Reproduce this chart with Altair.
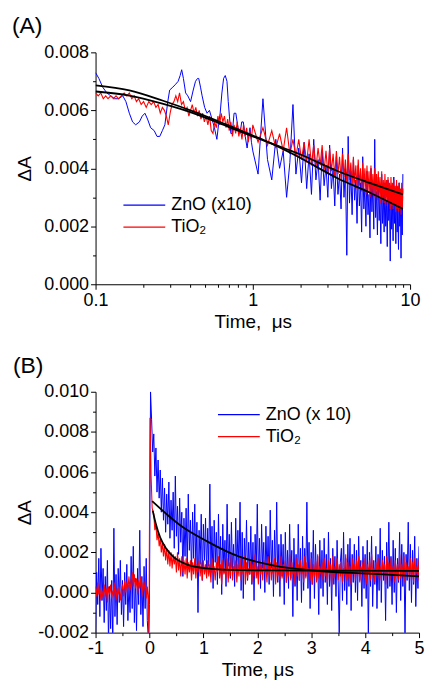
import altair as alt
import pandas as pd

FONT = "Liberation Sans"
BLUE = "#0000ff"
RED = "#ff0000"

# ---------------- Panel A (log time axis) ----------------
zno_a_t1 = [0.100, 0.105, 0.111, 0.118, 0.125, 0.132, 0.140, 0.149, 0.156, 0.164,
            0.172, 0.180, 0.190, 0.198, 0.206, 0.214, 0.224, 0.236, 0.246, 0.256,
            0.266, 0.276, 0.288, 0.296, 0.310, 0.323, 0.335, 0.345, 0.353, 0.362,
            0.374, 0.386, 0.402, 0.418, 0.432, 0.445, 0.453, 0.465, 0.476, 0.494,
            0.512, 0.530, 0.550, 0.570, 0.591, 0.605, 0.620, 0.636, 0.652, 0.668,
            0.685, 0.698, 0.710, 0.725, 0.740, 0.760, 0.780, 0.805, 0.830, 0.850,
            0.870, 0.895, 0.920, 0.940, 0.960, 0.980]
zno_a_v1 = [0.0073, 0.0071, 0.0068, 0.0066, 0.0065, 0.0064, 0.0064, 0.0065, 0.0063, 0.0059,
            0.0056, 0.0055, 0.0056, 0.0058, 0.0059, 0.0057, 0.0054, 0.0053, 0.0051, 0.0051,
            0.0053, 0.0055, 0.0063, 0.0067, 0.0068, 0.0069, 0.0070, 0.0072, 0.0074, 0.0071,
            0.0066, 0.0065, 0.0063, 0.0067, 0.0070, 0.0071, 0.0071, 0.0068, 0.0065, 0.0061,
            0.0059, 0.0060, 0.0057, 0.0054, 0.0050, 0.0055, 0.0059, 0.0066, 0.0071, 0.0072,
            0.0070, 0.0063, 0.0058, 0.0052, 0.0052, 0.0059, 0.0059, 0.0054, 0.0052, 0.0056,
            0.0056, 0.0051, 0.0047, 0.0051, 0.0054, 0.0049]
# sampled every 0.08 us from 1.00 us
zno_a_v2 = [0.0046, 0.0038, 0.0064, 0.0043, 0.0036, 0.0050, 0.0040, 0.0046, 0.0030, 0.0042,
            0.0062, 0.0038, 0.0047, 0.0035, 0.0049, 0.0033, 0.0045, 0.0031, 0.0050, 0.0036,
            0.0043, 0.0029, 0.0046, 0.0034, 0.0041, 0.0030, 0.0048, 0.0033, 0.0040, 0.0027,
            0.0044, 0.0031, 0.0038, 0.0026, 0.0047, 0.0030, 0.0040, 0.0010, 0.0051, 0.0028,
            0.0039, 0.0024, 0.0043, 0.0029, 0.0036, 0.0021, 0.0041, 0.0027, 0.0035, 0.0018,
            0.0044, 0.0026, 0.0033, 0.0020, 0.0039, 0.0024, 0.0031, 0.0016, 0.0040, 0.0025,
            0.0034, 0.0019, 0.0050, 0.0023, 0.0032, 0.0017, 0.0037, 0.0022, 0.0030, 0.0014,
            0.0038, 0.0021, 0.0031, 0.0018, 0.0035, 0.0020, 0.0029, 0.0013, 0.0036, 0.0022,
            0.0030, 0.0008, 0.0034, 0.0019, 0.0028, 0.0015, 0.0037, 0.0021, 0.0029, 0.0014,
            0.0033, 0.0018, 0.0027, 0.0012, 0.0035, 0.0020, 0.0030, 0.0009, 0.0032, 0.0017,
            0.0038]

tio_a_t1 = [0.100, 0.104, 0.108, 0.112, 0.116, 0.120, 0.125, 0.130, 0.135, 0.140,
            0.146, 0.152, 0.158, 0.164, 0.170, 0.176, 0.182, 0.188, 0.195, 0.202,
            0.210, 0.218, 0.226, 0.234, 0.242, 0.250, 0.258, 0.266, 0.274, 0.282,
            0.290, 0.298, 0.306, 0.315, 0.324, 0.333, 0.342, 0.352, 0.362, 0.372,
            0.382, 0.392, 0.402, 0.412, 0.423, 0.434, 0.445, 0.456, 0.468, 0.480,
            0.492, 0.505, 0.518, 0.531, 0.544, 0.558, 0.572, 0.586, 0.600, 0.615,
            0.630, 0.645, 0.660, 0.676, 0.692, 0.708, 0.725, 0.742, 0.760, 0.778,
            0.796, 0.815, 0.834, 0.853, 0.873, 0.893, 0.914, 0.935, 0.957, 0.979]
tio_a_v1 = [0.0066, 0.0065, 0.0066, 0.0064, 0.0065, 0.0064, 0.0065, 0.0064, 0.0065, 0.0064,
            0.0065, 0.0066, 0.0065, 0.0066, 0.0064, 0.0065, 0.0063, 0.0064, 0.0062, 0.0063,
            0.0061, 0.0063, 0.0062, 0.0063, 0.0061, 0.0062, 0.0059, 0.0061, 0.0060, 0.0058,
            0.0055, 0.0059, 0.0062, 0.0063, 0.0065, 0.0063, 0.0066, 0.0062, 0.0063, 0.0060,
            0.0061, 0.0058, 0.0060, 0.0062, 0.0059, 0.0061, 0.0058, 0.0060, 0.0057, 0.0059,
            0.0056, 0.0058, 0.0055, 0.0058, 0.0053, 0.0052, 0.0056, 0.0054, 0.0058, 0.0055,
            0.0059, 0.0056, 0.0058, 0.0054, 0.0057, 0.0053, 0.0056, 0.0051, 0.0055, 0.0052,
            0.0056, 0.0051, 0.0054, 0.0050, 0.0055, 0.0051, 0.0054, 0.0049, 0.0053, 0.0050]
tio_a_v2 = [0.0055, 0.0049, 0.0054, 0.0048, 0.0053, 0.0047, 0.0052, 0.0046, 0.0054, 0.0045,
            0.0050, 0.0044, 0.0050, 0.0043, 0.0049, 0.0042, 0.0050, 0.0041, 0.0048, 0.0040,
            0.0047, 0.0041, 0.0048, 0.0039, 0.0046, 0.0038, 0.0047, 0.0039, 0.0045, 0.0037,
            0.0046, 0.0038, 0.0044, 0.0036, 0.0045, 0.0037, 0.0043, 0.0035, 0.0045, 0.0036,
            0.0042, 0.0034, 0.0044, 0.0035, 0.0041, 0.0033, 0.0043, 0.0034, 0.0040, 0.0032,
            0.0042, 0.0033, 0.0040, 0.0031, 0.0041, 0.0032, 0.0039, 0.0030, 0.0041, 0.0031,
            0.0038, 0.0030, 0.0040, 0.0030, 0.0038, 0.0029, 0.0039, 0.0030, 0.0037, 0.0028,
            0.0039, 0.0029, 0.0036, 0.0028, 0.0038, 0.0029, 0.0036, 0.0027, 0.0037, 0.0028,
            0.0035, 0.0026, 0.0037, 0.0027, 0.0035, 0.0026, 0.0036, 0.0027, 0.0034, 0.0025,
            0.0036, 0.0026, 0.0034, 0.0025, 0.0035, 0.0026, 0.0033, 0.0024, 0.0035, 0.0026,
            0.0033]

fit_zno_a_t = [0.1, 0.164, 0.266, 0.43, 0.7, 1.0, 1.32, 1.94, 3.48, 5.65, 9.0]
fit_zno_a_v = [0.00686, 0.00669, 0.00634, 0.00594, 0.00548, 0.00513, 0.00485, 0.00440, 0.00365, 0.00314, 0.00260]
fit_tio_a_t = [0.1, 0.164, 0.266, 0.43, 0.7, 1.0, 1.32, 1.94, 3.48, 5.65, 9.0]
fit_tio_a_v = [0.00665, 0.00651, 0.00623, 0.00588, 0.00543, 0.00510, 0.00485, 0.00451, 0.00390, 0.00348, 0.00310]

# ---------------- Panel B (linear time axis) ----------------
# sampled every 0.02 us from -1.00 us
zno_b_pre = [-0.0022, 0.0010, -0.0006, 0.0017, -0.0012, 0.0022, -0.0004, 0.0012, -0.0015, 0.0008,
             -0.0009, 0.0016, -0.0025, 0.0003, -0.0018, 0.0006, -0.0025, 0.0032, -0.0012, 0.0009,
             -0.0016, 0.0012, -0.0005, 0.0016, -0.0011, 0.0006, -0.0017, 0.0010, -0.0006, 0.0014,
             -0.0014, 0.0004, -0.0010, 0.0018, -0.0008, 0.0023, -0.0015, 0.0007, -0.0019, 0.0012,
             -0.0006, 0.0031, -0.0011, 0.0008, -0.0017, 0.0013, -0.0008, 0.0017, -0.0014, -0.0024]
zno_b_spike_t = [0.0, 0.02]
zno_b_spike_v = [-0.0006, 0.0100]
# sampled every 0.02 us from 0.04 us
zno_b_post = [0.0086, 0.0070, 0.0079, 0.0058, 0.0072, 0.0050, 0.0066, 0.0047, 0.0061, 0.0040,
              0.0057, 0.0036, 0.0052, 0.0030, 0.0049, 0.0034, 0.0055, 0.0027, 0.0046, 0.0031,
              0.0050, 0.0022, 0.0058, 0.0028, 0.0043, 0.0019, 0.0047, 0.0025, 0.0040, 0.0008,
              0.0037, 0.0018, 0.0042, 0.0012, 0.0049, 0.0021, 0.0036, 0.0009, 0.0040, 0.0017,
              0.0044, 0.0011, 0.0035, -0.0010, 0.0031, 0.0014, 0.0039, 0.0006, 0.0034, 0.0016,
              0.0037, 0.0009, 0.0032, 0.0013, 0.0054, 0.0010, 0.0033, 0.0002, 0.0036, 0.0015,
              0.0030, 0.0004, 0.0039, 0.0012, 0.0028, -0.0001, 0.0034, 0.0010, 0.0026, 0.0003,
              0.0044, 0.0013, 0.0029, 0.0007, 0.0035, 0.0011, 0.0024, 0.0003, 0.0037, 0.0009,
              0.0031, 0.0012, 0.0045, 0.0001, 0.0030, -0.0003, 0.0027, 0.0011, 0.0036, 0.0006,
              0.0025, 0.0009, 0.0033, 0.0004, 0.0025, -0.0004, 0.0029, 0.0010, 0.0044, 0.0007,
              0.0027, 0.0002, 0.0034, 0.0012, 0.0025, 0.0000, 0.0033, 0.0009, 0.0028, 0.0004,
              0.0041, 0.0012, 0.0026, -0.0002, 0.0031, 0.0008, 0.0045, 0.0005, 0.0024, -0.0002,
              0.0029, 0.0008, 0.0024, -0.0006, 0.0030, 0.0005, 0.0021, 0.0002, 0.0034, 0.0007,
              0.0021, -0.0012, 0.0027, 0.0003, 0.0019, -0.0004, 0.0034, 0.0006, 0.0022, -0.0005,
              0.0028, 0.0001, 0.0022, 0.0008, 0.0045, 0.0002, 0.0025, -0.0008, 0.0020, 0.0004,
              0.0031, -0.0003, 0.0024, 0.0006, 0.0018, -0.0011, 0.0026, 0.0002, 0.0021, -0.0002,
              0.0027, 0.0005, 0.0019, -0.0006, 0.0030, 0.0003, 0.0017, -0.0009, 0.0022, 0.0004,
              0.0018, -0.0002, 0.0026, 0.0006, -0.0021, 0.0015, 0.0022, -0.0004, 0.0030, 0.0001,
              0.0017, -0.0006, 0.0024, 0.0003, 0.0027, -0.0009, 0.0019, 0.0005, 0.0024, 0.0000,
              0.0021, -0.0004, 0.0028, 0.0006, 0.0016, -0.0007, 0.0023, 0.0002, 0.0019, -0.0003,
              0.0026, -0.0022, 0.0020, 0.0003, 0.0028, -0.0007, 0.0016, 0.0004, 0.0023, -0.0008,
              0.0019, 0.0001, 0.0032, -0.0005, 0.0021, 0.0006, 0.0018, -0.0014, 0.0025, 0.0002,
              0.0035, 0.0003, 0.0018, -0.0006, 0.0026, 0.0000, 0.0022, -0.0010, 0.0017, 0.0005,
              0.0030, -0.0004, 0.0024, 0.0003, 0.0020, -0.0022, 0.0019, 0.0006, 0.0035, 0.0001,
              0.0024, -0.0005, 0.0021, 0.0004, 0.0028, -0.0007, 0.0017, 0.0002, 0.0023]

# sampled every 0.02 us from -1.00 us
tio_b_pre = [0.0003, -0.0002, 0.0005, -0.0001, 0.0002, -0.0004, 0.0001, -0.0003, 0.0004, -0.0002,
             0.0002, -0.0005, 0.0003, -0.0001, 0.0004, -0.0003, 0.0001, -0.0002, 0.0005, -0.0004,
             0.0002, -0.0001, 0.0003, -0.0004, 0.0001, 0.0004, -0.0002, 0.0006, 0.0000, 0.0005,
             0.0002, 0.0008, 0.0001, 0.0006, 0.0010, 0.0003, 0.0009, 0.0002, 0.0007, -0.0001,
             0.0006, 0.0002, 0.0008, -0.0002, 0.0005, 0.0001, 0.0006, -0.0003, 0.0003, -0.0004]
tio_b_spike_t = [-0.01, 0.01, 0.03, 0.05]
tio_b_spike_v = [-0.0025, 0.0087, 0.0058, 0.0042]
# sampled every 0.02 us from 0.08 us
tio_b_post = [0.0039, 0.0031, 0.0034, 0.0026, 0.0030, 0.0023, 0.0027, 0.0020, 0.0025, 0.0018,
              0.0024, 0.0016, 0.0022, 0.0014, 0.0021, 0.0013, 0.0020, 0.0012, 0.0019, 0.0014,
              0.0018, 0.0010, 0.0020, 0.0011, 0.0017, 0.0008, 0.0018, 0.0010, 0.0016, 0.0009,
              0.0017, 0.0007, 0.0015, 0.0010, 0.0016, 0.0006, 0.0015, 0.0009, 0.0017, 0.0007,
              0.0014, 0.0010, 0.0016, 0.0008, 0.0015, 0.0006, 0.0016, 0.0009, 0.0014, 0.0007,
              0.0016, 0.0008, 0.0014, 0.0005, 0.0017, 0.0009, 0.0013, 0.0006, 0.0015, 0.0010,
              0.0018, 0.0007, 0.0014, 0.0004, 0.0016, 0.0009, 0.0012, 0.0007, 0.0017, 0.0005,
              0.0015, 0.0008, 0.0019, 0.0006, 0.0013, 0.0010, 0.0016, 0.0005, 0.0014, 0.0008,
              0.0017, 0.0006, 0.0013, 0.0009, 0.0018, 0.0004, 0.0015, 0.0007, 0.0012, 0.0009,
              0.0016, 0.0005, 0.0014, 0.0008, 0.0019, 0.0007, 0.0013, 0.0004, 0.0017, 0.0009,
              0.0014, 0.0006, 0.0016, 0.0010, 0.0012, 0.0005, 0.0018, 0.0008, 0.0015, 0.0006,
              0.0013, 0.0009, 0.0017, 0.0004, 0.0015, 0.0008, 0.0012, 0.0006, 0.0018, 0.0007,
              0.0014, 0.0010, 0.0016, 0.0005, 0.0013, 0.0008, 0.0019, 0.0006, 0.0015, 0.0009,
              0.0012, 0.0004, 0.0017, 0.0008, 0.0014, 0.0006, 0.0016, 0.0009, 0.0013, 0.0005,
              0.0018, 0.0007, 0.0015, 0.0010, 0.0012, 0.0006, 0.0017, 0.0004, 0.0014, 0.0008,
              0.0016, 0.0005, 0.0019, 0.0007, 0.0013, 0.0009, 0.0015, 0.0006, 0.0017, 0.0008,
              0.0012, 0.0005, 0.0016, 0.0009, 0.0014, 0.0003, 0.0018, 0.0007, 0.0013, 0.0010,
              0.0017, 0.0006, 0.0014, 0.0008, 0.0016, 0.0005, 0.0012, 0.0009, 0.0019, 0.0006,
              0.0015, 0.0007, 0.0013, 0.0004, 0.0017, 0.0009, 0.0014, 0.0006, 0.0016, 0.0008,
              0.0018, 0.0005, 0.0013, 0.0010, 0.0015, 0.0007, 0.0017, 0.0004, 0.0014, 0.0009,
              0.0016, 0.0006, 0.0019, 0.0008, 0.0012, 0.0005, 0.0015, 0.0009, 0.0017, 0.0007,
              0.0013, 0.0006, 0.0016, 0.0010, 0.0014, 0.0004, 0.0018, 0.0008, 0.0015, 0.0006,
              0.0017, 0.0009, 0.0013, 0.0005, 0.0016, 0.0008, 0.0014, 0.0006, 0.0019, 0.0007,
              0.0014, 0.0008, 0.0018, 0.0005, 0.0015, 0.0010, 0.0013, 0.0007, 0.0017, 0.0006,
              0.0015, 0.0005, 0.0017, 0.0009, 0.0013, 0.0006, 0.0016]

fit_zno_b_t = [0.05, 0.32, 0.57, 1.06, 1.68, 2.29, 3.15, 4.08, 5.0]
fit_zno_b_v = [0.00455, 0.00390, 0.00335, 0.00256, 0.00177, 0.00135, 0.00107, 0.00094, 0.00080]
fit_tio_b_t = [0.06, 0.12, 0.2, 0.32, 0.445, 0.69, 1.06, 1.68, 3.0, 5.0]
fit_tio_b_v = [0.00408, 0.00340, 0.00273, 0.00215, 0.00177, 0.00140, 0.00120, 0.00111, 0.00109, 0.00108]

LAB_ZNO_A = "ZnO (x10)"
LAB_ZNO_B = "ZnO (x 10)"
LAB_TIO = "TiO\u2082"


def grid(start, step, n):
    return [round(start + step * i, 3) for i in range(n)]


def frame(t, v, label=None):
    d = pd.DataFrame({"t": t, "v": v})
    if label is not None:
        d["series"] = label
    return d


df_zno_a = frame(zno_a_t1 + grid(1.0, 0.08, len(zno_a_v2)), zno_a_v1 + zno_a_v2, LAB_ZNO_A)
df_tio_a = frame(tio_a_t1 + grid(1.0, 0.08, len(tio_a_v2)), tio_a_v1 + tio_a_v2, LAB_TIO)
df_fz_a = frame(fit_zno_a_t, fit_zno_a_v)
df_ft_a = frame(fit_tio_a_t, fit_tio_a_v)

df_zno_b = frame(grid(-1.0, 0.02, len(zno_b_pre)) + zno_b_spike_t + grid(0.04, 0.02, len(zno_b_post)),
                 zno_b_pre + zno_b_spike_v + zno_b_post, LAB_ZNO_B)
df_tio_b = frame(grid(-1.0, 0.02, len(tio_b_pre)) + tio_b_spike_t + grid(0.08, 0.02, len(tio_b_post)),
                 tio_b_pre + tio_b_spike_v + tio_b_post, LAB_TIO)
df_fz_b = frame(fit_zno_b_t, fit_zno_b_v)
df_ft_b = frame(fit_tio_b_t, fit_tio_b_v)

AX = dict(grid=False, domainColor="black", tickColor="black", labelColor="black",
          titleColor="black", labelFont=FONT, titleFont=FONT, labelFontSize=18,
          titleFontSize=19, titleFontWeight="normal", domainWidth=1, tickWidth=1,
          labelFlush=False, labelOverlap=False, labelPadding=2)


def major_x(values, title, expr, pad):
    return alt.Axis(values=values, title=title, labelExpr=expr, tickSize=5,
                    titlePadding=pad, orient="bottom", **AX)


def major_y(values, h):
    return alt.Axis(values=values, title="\u0394A", tickSize=5,
                    labelExpr="datum.value < 0 ? '-' + format(-datum.value, '.3f') : format(datum.value, '.3f')",
                    titleX=-71, titleY=h / 2, titleAngle=270, titleAlign="center",
                    titleBaseline="middle", orient="left", **AX)


def minor(values, orient):
    return alt.Axis(values=values, labels=False, domain=False, tickSize=3, title=None,
                    orient=orient, grid=False, tickColor="black", tickWidth=1)


def legend(x, y):
    return alt.Legend(title=None, orient="none", legendX=x, legendY=y, symbolType="stroke",
                      symbolSize=1764, symbolStrokeWidth=1.3, labelFont=FONT,
                      labelFontSize=18, labelColor="black", labelOffset=5,
                      clipHeight=17, rowPadding=3, padding=0)


def panel(df_z, df_t, df_fz, df_ft, xs, ys, xmaj, ymaj, xmin, ymin, cdom, leg, w, h, ttl, dx):
    cs = alt.Scale(domain=cdom, range=[BLUE, RED])
    blue = alt.Chart(df_z).mark_line(strokeWidth=1, clip=True).encode(
        x=alt.X("t:Q", scale=xs, axis=xmaj),
        y=alt.Y("v:Q", scale=ys, axis=ymaj),
        color=alt.Color("series:N", scale=cs, legend=leg),
    )
    red = alt.Chart(df_t).mark_line(strokeWidth=1.1, clip=True).encode(
        x=alt.X("t:Q", scale=xs, axis=xmin),
        y=alt.Y("v:Q", scale=ys, axis=ymin),
        color=alt.Color("series:N", scale=cs, legend=leg),
    )
    f1 = alt.Chart(df_fz).mark_line(color="black", strokeWidth=1.8, interpolate="monotone", clip=True).encode(
        x=alt.X("t:Q", scale=xs, axis=None), y=alt.Y("v:Q", scale=ys, axis=None))
    f2 = alt.Chart(df_ft).mark_line(color="black", strokeWidth=1.8, interpolate="monotone", clip=True).encode(
        x=alt.X("t:Q", scale=xs, axis=None), y=alt.Y("v:Q", scale=ys, axis=None))
    return alt.layer(blue, red, f1, f2).resolve_axis(x="independent", y="independent").properties(
        width=w, height=h,
        title=alt.TitleParams(text=ttl, anchor="start", frame="group", dx=dx, offset=5,
                              font=FONT, fontSize=23, fontWeight="normal", color="black"))


xs_a = alt.Scale(type="log", domain=[0.1, 10], nice=False)
ys_a = alt.Scale(domain=[0, 0.008], nice=False, zero=False)
panel_a = panel(
    df_zno_a, df_tio_a, df_fz_a, df_ft_a, xs_a, ys_a,
    major_x([0.1, 1, 10], "Time,\u00a0\u00a0\u03bcs", "format(datum.value, '~g')", 3),
    major_y([0, 0.002, 0.004, 0.006, 0.008], 233),
    minor([0.2, 0.3, 0.4, 0.5, 0.6, 0.7, 0.8, 0.9, 2, 3, 4, 5, 6, 7, 8, 9], "bottom"),
    minor([0.001, 0.003, 0.005, 0.007], "left"),
    [LAB_ZNO_A, LAB_TIO], legend(27, 145), 316, 233, "(A)", -84)

xs_b = alt.Scale(domain=[-1, 5], nice=False, zero=False)
ys_b = alt.Scale(domain=[-0.002, 0.010], nice=False, zero=False)
panel_b = panel(
    df_zno_b, df_tio_b, df_fz_b, df_ft_b, xs_b, ys_b,
    major_x([-1, 0, 1, 2, 3, 4, 5], "Time, \u03bcs",
            "datum.value < 0 ? '-' + format(-datum.value, 'd') : format(datum.value, 'd')", 3),
    major_y([-0.002, 0, 0.002, 0.004, 0.006, 0.008, 0.010], 242),
    minor([-0.5, 0.5, 1.5, 2.5, 3.5, 4.5], "bottom"),
    minor([-0.001, 0.001, 0.003, 0.005, 0.007, 0.009], "left"),
    [LAB_ZNO_B, LAB_TIO], legend(122, 14.5), 325, 242, "(B)", -83)

chart = alt.vconcat(panel_a, panel_b, spacing=24).resolve_scale(
    color="independent", x="independent", y="independent"
).properties(
    padding={"left": 12, "top": 14, "right": 0, "bottom": 0},
    background="white",
).configure_view(strokeWidth=0)

chart.save("out.html", embed_options={"renderer": "svg", "actions": False})
